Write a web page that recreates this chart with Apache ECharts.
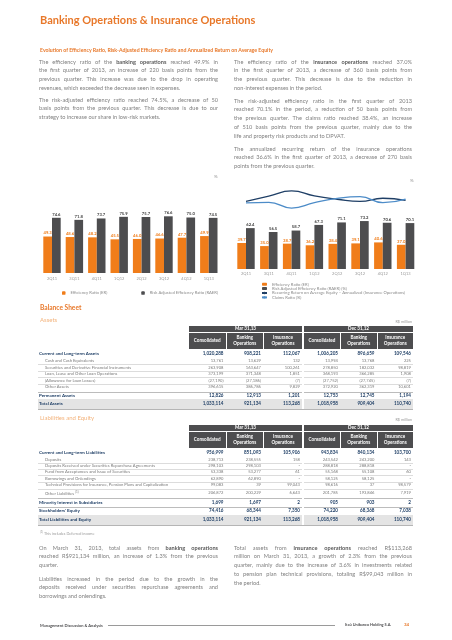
<!DOCTYPE html>
<html><head><meta charset="utf-8">
<script src="https://cdn.jsdelivr.net/npm/echarts@6/dist/echarts.min.js"></script>
<style>
html,body{margin:0;padding:0;background:#fff}
body{position:relative;width:452px;height:640px;overflow:hidden;font-family:Lato,"Open Sans",sans-serif}
#chart{position:absolute;left:0;top:0;width:452px;height:640px}
.t{position:absolute;white-space:nowrap}
.jl{position:absolute;font-size:5.6px;line-height:8.8px;height:8.8px;color:#808080;text-align:justify;text-align-last:justify;overflow:visible;white-space:nowrap}
.jl.last{text-align-last:left}
.jl b{color:#595959}
.box{position:absolute}
.hc{position:absolute;display:flex;align-items:center;justify-content:center;text-align:center;color:#fff;font-weight:bold;font-size:4.6px;line-height:5.6px;background:#4d4d4f}
</style></head><body>
<div id="chart"></div>
<script>
// ---------- chart data ----------
const categories = ['2Q11','3Q11','4Q11','1Q12','2Q12','3Q12','4Q12','1Q13'];
const bankER   = [49.3, 48.6, 48.2, 45.5, 46.0, 46.6, 47.7, 49.9];
const bankRAER = [74.6, 71.8, 73.7, 75.9, 75.7, 76.6, 75.0, 74.5];
const insER    = [39.7, 35.0, 38.7, 36.2, 38.4, 39.1, 40.6, 37.0];
const insRAER  = [62.4, 56.5, 58.7, 67.3, 71.1, 73.2, 70.6, 70.1];
const insROAE  = [35.1, 42.7, 49.9, 42.8, 38.1, 34.9, 39.5, 36.6];
const insClaims= [33.0, 33.7, 25.5, 33.2, 39.3, 41.8, 33.3, 38.4];
const roaeLabelSide   = ['bottom','top','top','top','bottom','bottom','top','bottom'];
const claimsLabelSide = ['top','bottom','bottom','bottom','top','top','bottom','top'];

// ---------- table data ----------
const periods = ['Mar 31,13','Dec 31,12'];
const colHeads = ['Consolidated','Banking<br>Operations','Insurance<br>Operations'];
const assetLabels = ['Current and Long-term Assets','Cash and Cash Equivalents','Securities and Derivative Financial Instruments','Loan, Lease and Other Loan Operations','(Allowance for Loan Losses)','Other Assets','Permanent Assets','Total Assets'];
const assetValues = [
 ['1,020,288','908,221','112,067','1,006,205','896,659','109,546'],
 ['13,761','13,629','132','13,994','13,768','225'],
 ['263,908','163,647','100,261','278,850','182,032','98,819'],
 ['373,199','371,348','1,851','368,193','366,285','1,908'],
 ['(27,190)','(27,186)','(7)','(27,752)','(27,745)','(7)'],
 ['396,615','386,786','9,829','372,920','362,319','10,601'],
 ['12,826','12,913','1,201','12,753','12,745','1,194'],
 ['1,033,114','921,134','113,268','1,018,958','909,404','110,740']
];
const assetKinds = ['bold','sub','sub','sub','sub','sub','bold','total'];
const liabLabels = ['Current and Long-term Liabilities','Deposits','Deposits Received under Securities Repurchase Agreements','Fund from Acceptances and Issue of Securities','Borrowings and Onlendings','Technical Provisions for Insurance, Pension Plans and Capitalization','Other Liabilities <sup style="font-size:3px">(1)</sup>','Minority Interest in Subsidiaries',"Stockholders' Equity",'Total Liabilities and Equity'];
const liabValues = [
 ['956,999','851,093','105,906','943,834','840,134','103,700'],
 ['238,713','238,555','158','243,542','243,200','143'],
 ['298,103','298,103','-','288,818','288,818','-'],
 ['53,338','53,277','61','55,168','55,108','60'],
 ['62,890','62,890','-','58,125','58,125','-'],
 ['99,083','39','99,043','98,616','37','98,579'],
 ['206,872','200,229','6,643','201,785','193,846','7,919'],
 ['1,699','1,697','2','905','903','2'],
 ['74,416','68,344','7,350','74,220','68,368','7,038'],
 ['1,033,114','921,134','113,268','1,018,958','909,404','110,740']
];
const liabKinds = ['bold','sub','sub','sub','sub','sub','sub','bold','bold','total'];

const ORANGE = '#f07d1a', GREY = '#4d4d4f', NAVY = '#1f3f66', LBLUE = '#4d8cc8';

// ---------- chart ----------
const chart = echarts.init(document.getElementById('chart'), null, {renderer:'canvas'});
const barLbl = (c) => ({show:true, position:'top', distance:1.5, fontSize:4.2, fontWeight:'bold', color:c, formatter:p=>p.value.toFixed(1)});
const lineLbl = {show:true, distance:1.5, fontSize:4.2, fontWeight:'bold', color:'#2c527e', formatter:p=>p.value.toFixed(1)};
chart.setOption({
  animation:false,
  textStyle:{fontFamily:'Lato'},
  grid:[
    {left:40.8, top:199, width:179.2, height:74},
    {left:234.6, top:203.5, width:182.4, height:65.5},
    {left:234.6, top:187.4, width:182.4, height:24.5}
  ],
  xAxis:[
    {type:'category', gridIndex:0, data:categories, axisLine:{show:false}, axisTick:{show:false}, axisLabel:{fontSize:4, color:'#9a9a9a', margin:4}},
    {type:'category', gridIndex:1, data:categories, axisLine:{show:false}, axisTick:{show:false}, axisLabel:{fontSize:4, color:'#9a9a9a', margin:3}},
    {type:'category', gridIndex:2, data:categories, show:false}
  ],
  yAxis:[
    {type:'value', gridIndex:0, min:0, max:100, show:false},
    {type:'value', gridIndex:1, min:0, max:100, show:false},
    {type:'value', gridIndex:2, min:20, max:55, show:false}
  ],
  legend:[
    {left:57, top:286, itemWidth:3.5, itemHeight:3.5, itemGap:34, textStyle:{fontSize:4.2, color:'#8a8a8a'},
     data:['Efficiency Ratio (ER)','Risk Adjusted Efficiency Ratio (RAER)']},
    {orient:'vertical', left:256, top:277, itemWidth:5, itemHeight:3, itemGap:0, textStyle:{fontSize:4.2, lineHeight:4.4, color:'#8a8a8a'},
     data:['Efficiency Ratio (ER)','Risk Adjusted Efficiency Ratio (RAER) (%)','Recurring Return on Average Equity – Annualized (Insurance Operations)','Claims Ratio (%)']}
  ],
  graphic:[
    {type:'text', left:214, top:174, style:{text:'%', fontSize:4.5, fill:'#9a9a9a', fontFamily:'Lato'}},
    {type:'text', left:410, top:178, style:{text:'%', fontSize:4.5, fill:'#9a9a9a', fontFamily:'Lato'}}
  ],
  series:[
    {name:'Efficiency Ratio (ER)', type:'bar', xAxisIndex:0, yAxisIndex:0, data:bankER, barWidth:8.7, barGap:'0%', itemStyle:{color:ORANGE}, label:barLbl(ORANGE)},
    {name:'Risk Adjusted Efficiency Ratio (RAER)', type:'bar', xAxisIndex:0, yAxisIndex:0, data:bankRAER, barWidth:8.7, barGap:'0%', itemStyle:{color:GREY}, label:barLbl('#404040')},
    {name:'Efficiency Ratio (ER)', type:'bar', xAxisIndex:1, yAxisIndex:1, data:insER, barWidth:8.7, barGap:'0%', itemStyle:{color:ORANGE}, label:barLbl(ORANGE)},
    {name:'Risk Adjusted Efficiency Ratio (RAER) (%)', type:'bar', xAxisIndex:1, yAxisIndex:1, data:insRAER, barWidth:8.7, barGap:'0%', itemStyle:{color:GREY}, label:barLbl('#404040')},
    {name:'Recurring Return on Average Equity – Annualized (Insurance Operations)', type:'line', xAxisIndex:2, yAxisIndex:2, smooth:true, symbol:'none',
     lineStyle:{color:NAVY, width:1.3}, itemStyle:{color:NAVY}, label:lineLbl,
     data:insROAE.map((v,i)=>({value:v, label:{position:roaeLabelSide[i]}}))},
    {name:'Claims Ratio (%)', type:'line', xAxisIndex:2, yAxisIndex:2, smooth:true, symbol:'none',
     lineStyle:{color:LBLUE, width:1.3}, itemStyle:{color:LBLUE}, label:lineLbl,
     data:insClaims.map((v,i)=>({value:v, label:{position:claimsLabelSide[i]}}))}
  ]
});

// ---------- text helpers ----------
function T(html, o){
  const d=document.createElement('div'); d.className='t'; d.innerHTML=html;
  const s=d.style, lh=o.lh||o.fs*1.25;
  s.fontSize=o.fs+'px'; s.lineHeight=lh+'px'; s.top=(o.y-lh/2)+'px';
  if(o.r!==undefined){ s.right=(452-o.r)+'px'; s.textAlign='right'; }
  else if(o.c!==undefined){ s.left=(o.c-60)+'px'; s.width='120px'; s.textAlign='center'; }
  else s.left=o.x+'px';
  s.color=o.color||'#808080'; if(o.bold) s.fontWeight='bold'; if(o.italic) s.fontStyle='italic';
  document.body.appendChild(d); return d;
}
function B(x,y,w,h,bg){ const d=document.createElement('div'); d.className='box'; Object.assign(d.style,{left:x+'px',top:y+'px',width:w+'px',height:h+'px',background:bg}); document.body.appendChild(d); return d; }
function P(x,yc,w,lines){
  lines.forEach((t,i)=>{ const d=document.createElement('div'); d.className='jl'+(i===lines.length-1?' last':''); d.style.left=x+'px'; d.style.top=(yc+i*8.8-4.4)+'px'; d.style.width=w+'px'; d.innerHTML=t; document.body.appendChild(d); });
}

// ---------- page text ----------
T('Banking Operations &amp; Insurance Operations',{x:40,y:20,fs:11,bold:true,color:'#e8782a'});
T('Evolution of Efficiency Ratio, Risk-Adjusted Efficiency Ratio and Annualized Return on Average Equity',{x:40,y:50,fs:5.2,bold:true,color:'#e8782a'});
P(39,62,179,['The efficiency ratio of the <b>banking operations</b> reached 49.9% in','the first quarter of 2013, an increase of 220 basis points from the','previous quarter. This increase was due to the drop in operating','revenues, which exceeded the decrease seen in expenses.']);
P(39,100,179,['The risk-adjusted efficiency ratio reached 74.5%, a decrease of 50','basis points from the previous quarter. This decrease is due to our','strategy to increase our share in low-risk markets.']);
P(234,62,178,['The efficiency ratio of the <b>insurance operations</b> reached 37.0%','in the first quarter of 2013, a decrease of 360 basis points from','the previous quarter. This decrease is due to the reduction in','non-interest expenses in the period.']);
P(234,101,178,['The risk-adjusted efficiency ratio in the first quarter of 2013','reached 70.1% in the period, a reduction of 50 basis points from','the previous quarter. The claims ratio reached 38.4%, an increase','of 510 basis points from the previous quarter, mainly due to the','life and property risk products and to DPVAT.']);
P(234,149,178,['The annualized recurring return of the insurance operations','reached 36.6% in the first quarter of 2013, a decrease of 270 basis','points from the previous quarter.']);

T('Balance Sheet',{x:40,y:307,fs:6.6,bold:true,color:'#e8782a'});
T('Assets',{x:40,y:320,fs:6,color:'#f3b37c'});
T('R$ million',{r:412,y:322,fs:3.8,color:'#9a9a9a'});
T('Liabilities and Equity',{x:40,y:418,fs:6,color:'#f3b37c'});
T('R$ million',{r:412,y:420,fs:3.8,color:'#9a9a9a'});

// ---------- tables ----------
const colEdges=[[189,225.5],[226.5,263],[264,302],[304,340],[341,376.5],[377.5,413]];
function table(top, labels, values, kinds, rowY){
  B(189,top,113,5.8,'#4d4d4f'); B(304,top,109,5.8,'#4d4d4f');
  T(periods[0],{c:245.5,y:top+3,fs:4.6,bold:true,color:'#fff'});
  T(periods[1],{c:358.5,y:top+3,fs:4.6,bold:true,color:'#fff'});
  colEdges.forEach((e,i)=>{ const d=document.createElement('div'); d.className='hc'; Object.assign(d.style,{left:e[0]+'px',top:(top+7)+'px',width:(e[1]-e[0])+'px',height:'16px'}); d.innerHTML=colHeads[i%3]; document.body.appendChild(d); });
  labels.forEach((lab,r)=>{
    const k=kinds[r], y=rowY[r];
    const nextY = r<labels.length-1?rowY[r+1]:y+6;
    if(k==='total'){ B(38,y-5,375,10,'#e4e4e4'); B(38,y+5,375,0.8,'#b5b5b5'); }
    else if(!(k==='bold' && r===0)){ const ly=(y+nextY)/2; if(kinds[r+1]!=='total') B(38,ly,375,0.5, k==='sub'&&kinds[r+1]==='sub'?'#dcdcdc':'#bcbcbc'); }
    const bold = k!=='sub';
    T(lab,{x:bold?39:45,y:y,fs:bold?4.5:4.2,bold:bold,color:bold?NAVY:'#7a7a7a'});
    values[r].forEach((v,c)=>T(v,{r:colEdges[c][1]-2,y:y,fs:bold?4.6:4.1,bold:bold,color:bold?NAVY:'#7a7a7a'}));
  });
  B(302,rowY[0]-4,2,rowY[rowY.length-1]-rowY[0]+9,'#fff');
}
table(326, assetLabels, assetValues, assetKinds, [354,361,367.5,374,380.5,387,396,404]);
table(425, liabLabels, liabValues, liabKinds, [453,459.5,466,472,478.5,485,493,503,511,520]);

T('<sup style="font-size:2.8px">(1)</sup> This includes Deferred income',{x:40,y:532,fs:3.8,color:'#9a9a9a'});

P(39,548,179,['On March 31, 2013, total assets from <b>banking operations</b>','reached R$921,134 million, an increase of 1.3% from the previous','quarter.']);
P(39,579,179,['Liabilities increased in the period due to the growth in the','deposits received under securities repurchase agreements and','borrowings and onlendings.']);
P(234,548,178,['Total assets from <b>insurance operations</b> reached R$113,268','million on March 31, 2013, a growth of 2.3% from the previous','quarter, mainly due to the increase of 3.6% in investments related','to pension plan technical provisions, totaling R$99,043 million in','the period.']);

// footer
T('Management Discussion &amp; Analysis',{x:40,y:625,fs:4,bold:true,color:'#4d4d4f'});
B(108,624.5,227,1,'#9a9a9a');
T('Itaú Unibanco Holding S.A.',{x:345,y:625,fs:3.9,bold:true,color:'#4d4d4f'});
T('34',{x:404,y:625,fs:4.5,bold:true,color:'#e8782a'});
</script>
</body></html>
